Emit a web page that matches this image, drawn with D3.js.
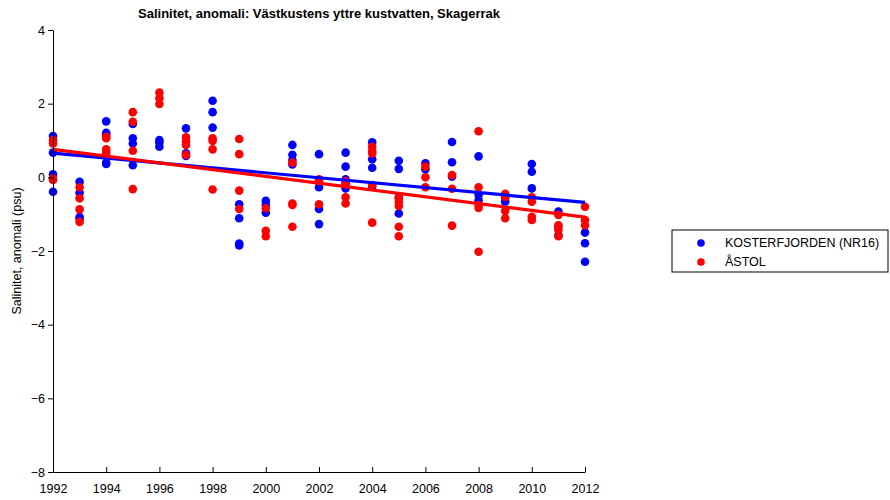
<!DOCTYPE html>
<html>
<head>
<meta charset="utf-8">
<script src="https://cdn.jsdelivr.net/npm/d3@7"></script>
<style>
  body { margin: 0; background: #fff; }
  text { font-family: "Liberation Sans", Arial, sans-serif; }
</style>
</head>
<body>
<div id="chart"></div>
<script>
// SALINITET, ANOMALI - data read per year

var years = [1992, 1993, 1994, 1995, 1996, 1997, 1998, 1999, 2000, 2001, 2002,
             2003, 2004, 2005, 2006, 2007, 2008, 2009, 2010, 2011, 2012];

// KOSTERFJORDEN (NR16), one list per year
var koster = [
    [1.12, 0.67, 0.08, -0.39],
    [-0.12, -0.42, -1.08, -1.13],
    [1.52, 1.21, 1.15, 0.40, 0.36],
    [1.45, 1.06, 0.92, 0.33],
    [1.01, 0.94, 0.83],
    [1.33, 0.65, 0.58],
    [2.08, 1.77, 1.35],
    [-0.73, -1.11, -1.80, -1.85],
    [-0.64, -0.75, -0.96],
    [0.88, 0.61, 0.47, 0.35],
    [0.63, -0.27, -0.86, -1.27],
    [0.67, 0.29, -0.05, -0.16, -0.30],
    [0.95, 0.49, 0.26, -0.25],
    [0.45, 0.23, -0.55, -0.98],
    [0.38, 0.22],
    [0.96, 0.41, 0.02],
    [0.57, -0.48, -0.62],
    [-0.66, -0.55],
    [0.36, 0.15, -0.30],
    [-0.93, -1.34, -1.57],
    [-1.50, -1.79, -2.29]
];

// ÅSTOL
var astol = [
    [1.01, 0.92, -0.03, -0.07],
    [-0.27, -0.57, -0.87, -1.21],
    [1.10, 1.06, 0.76, 0.67],
    [1.77, 1.51, 0.72, -0.32],
    [2.30, 2.15, 1.99],
    [1.09, 0.97, 0.88, 0.61],
    [1.06, 0.99, 0.76, -0.33],
    [1.04, 0.63, -0.36, -0.86],
    [-0.84, -1.45, -1.60],
    [0.40, -0.71, -0.75, -1.34],
    [-0.05, -0.10, -0.73],
    [-0.10, -0.19, -0.54, -0.71],
    [0.83, 0.72, 0.65, -0.21, -1.23],
    [-0.57, -0.66, -0.78, -1.34, -1.60],
    [0.29, 0.00, -0.27],
    [0.06, -0.31, -1.31],
    [1.25, -0.27, -0.75, -0.83, -2.02],
    [-0.45, -0.53, -0.91, -1.11],
    [-0.54, -0.66, -1.07, -1.16],
    [-1.02, -1.30, -1.43, -1.60],
    [-0.80, -1.16, -1.30]
];

var xTicks = [1992, 1994, 1996, 1998, 2000, 2002, 2004, 2006, 2008, 2010, 2012];
var yTicks = [-8, -6, -4, -2, 0, 2, 4];

var seriesNames = ["KOSTERFJORDEN (NR16)", "ÅSTOL"];
var seriesColors = ["#0000ff", "#ff0000"];

function flatten(series) {
    var out = [];
    series.forEach(function(vals, i) {
        vals.forEach(function(v) { out.push({year: years[i], value: v}); });
    });
    return out;
}

// least squares fit, drawn as the trend line
function fit(points) {
    var mx = d3.mean(points, d => d.year), my = d3.mean(points, d => d.value);
    var sxy = d3.sum(points, d => (d.year - mx) * (d.value - my));
    var sxx = d3.sum(points, d => (d.year - mx) * (d.year - mx));
    var b = sxy / sxx;
    return function(x) { return my + b * (x - mx); };
}

var margin = {top: 30, right: 305, bottom: 28, left: 53},
    width = 890 - margin.left - margin.right,
    height = 500 - margin.top - margin.bottom;

var svg = d3.select("#chart").append("svg")
    .attr("width", 890)
    .attr("height", 500);

var g = svg.append("g")
    .attr("transform", "translate(" + margin.left + "," + margin.top + ")");

var x = d3.scaleLinear().domain([1992, 2012]).range([0, width]);
var y = d3.scaleLinear().domain([-8, 4]).range([height, 0]);

var datasets = [flatten(koster), flatten(astol)];

// points
datasets.forEach(function(pts, k) {
    g.append("g").selectAll("circle")
        .data(pts)
        .enter().append("circle")
        .attr("cx", d => x(d.year))
        .attr("cy", d => y(d.value))
        .attr("r", 4.3)
        .style("fill", seriesColors[k]);
});

// trend lines
datasets.forEach(function(pts, k) {
    var f = fit(pts);
    g.append("line")
        .attr("x1", x(1992)).attr("y1", y(f(1992)))
        .attr("x2", x(2012)).attr("y2", y(f(2012)))
        .attr("stroke", seriesColors[k])
        .attr("stroke-width", 3.2);
});

var xAxis = d3.axisBottom(x).tickValues(xTicks).tickFormat(d3.format("d"))
    .tickSizeInner(-5).tickSizeOuter(0).tickPadding(12);
var yAxis = d3.axisLeft(y).tickValues(yTicks)
    .tickSizeInner(5).tickSizeOuter(0).tickPadding(3);

var gx = g.append("g")
    .attr("transform", "translate(0," + height + ")")
    .call(xAxis);
var gy = g.append("g").call(yAxis);

[gx, gy].forEach(function(a) {
    a.selectAll("text").style("font-size", "12.5px").attr("fill", "#000");
    a.selectAll("line").attr("stroke", "#000");
    a.select(".domain").attr("stroke", "#000");
});

// title
svg.append("text")
    .attr("x", margin.left + width / 2)
    .attr("y", 18)
    .attr("text-anchor", "middle")
    .style("font-size", "13px")
    .style("font-weight", "bold")
    .text("Salinitet, anomali: Västkustens yttre kustvatten, Skagerrak");

// y label
svg.append("text")
    .attr("transform", "translate(21," + (margin.top + height / 2) + ") rotate(-90)")
    .attr("text-anchor", "middle")
    .style("font-size", "12.5px")
    .text("Salinitet, anomali (psu)");

// legend
var legend = svg.append("g").attr("transform", "translate(672,230)");
legend.append("rect")
    .attr("width", 216).attr("height", 42)
    .attr("fill", "#fff").attr("stroke", "#000").attr("stroke-width", 1);

seriesNames.forEach(function(name, i) {
    legend.append("circle")
        .attr("cx", 29).attr("cy", 13 + i * 19)
        .attr("r", 3.8)
        .style("fill", seriesColors[i]);
    legend.append("text")
        .attr("x", 53).attr("y", 13 + i * 19)
        .attr("dy", "0.35em")
        .style("font-size", "12.5px")
        .text(name);
});
</script>
</body>
</html>
